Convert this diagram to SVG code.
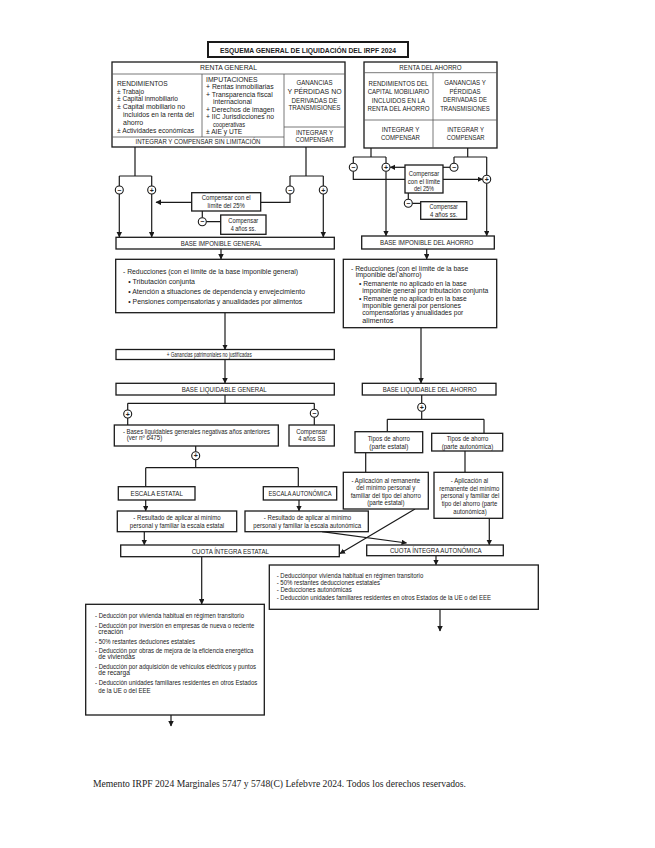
<svg xmlns="http://www.w3.org/2000/svg" width="655" height="848" viewBox="0 0 655 848">
<defs>
<marker id="ah" markerUnits="userSpaceOnUse" markerWidth="6" markerHeight="6" refX="5" refY="2.75" orient="auto">
<path d="M0,0 L5.5,2.75 L0,5.5 z" fill="#1a1a1a"/>
</marker>
</defs>
<style>
.b{fill:#fff;stroke:#1a1a1a;stroke-width:1.3}
.d{fill:none;stroke:#555;stroke-width:0.8}
.c{fill:none;stroke:#1a1a1a;stroke-width:1.2}
.a{fill:none;stroke:#1a1a1a;stroke-width:1.2;marker-end:url(#ah)}
.ci{fill:#fff;stroke:#1a1a1a;stroke-width:1.1}
text{font-family:"Liberation Sans Narrow","Arial Narrow","Liberation Sans",Arial,sans-serif;font-size:7px;fill:#222}
.m{text-anchor:middle}
.s{font-size:6.6px}
.sym{font-family:"Liberation Sans",Arial,sans-serif;font-size:7px;text-anchor:middle;font-weight:bold}
.ft{font-family:"Liberation Serif","Times New Roman",serif;font-size:9.5px;fill:#222}
</style>
<rect width="655" height="848" fill="#fff"/>

<g id="connectors">
<path class="c" d="M135,147 V176 M119.3,176 H151.7 M119.3,176 V186 M151.7,176 V186"/>
<path class="c" d="M306,147 V176 M290,176 H323.3 M290,176 V186 M323.3,176 V186"/>
<path class="a" d="M119.3,194 V237"/>
<path class="a" d="M151.7,194 V237"/>
<path class="a" d="M323.3,194 V237"/>
<path class="c" d="M290,194 V202.3 H260.7"/>
<path class="a" d="M191.7,202.3 H156"/>
<path class="c" d="M202.3,211 V217.7 M206.3,221.7 H220.7"/>
<path class="a" d="M221,249 V259"/>
<path class="a" d="M225,312.7 V349.5"/>
<path class="a" d="M225,359.5 V383"/>
<path class="c" d="M225,395 V403.3 M127.7,403.3 H314.3 M127.7,403.3 V410 M314.3,403.3 V409.3 M127.7,418 V425 M314.3,417.3 V425"/>
<path class="c" d="M195.7,446 V451.7 M195.7,459.7 V467.7 M145.7,467.7 H298.3 M145.7,467.7 V486.7 M298.3,467.7 V486.7"/>
<path class="a" d="M145.7,500 V510.8"/>
<path class="a" d="M299,500 V510.8"/>
<path class="a" d="M144.3,531.7 V544.8"/>
<path class="a" d="M201.7,556.7 V604"/>
<path class="a" d="M171,715 V726"/>
<path class="c" d="M371,148 V157 M353.3,157 H386 M353.3,157 V163.3 M386,157 V163.3"/>
<path class="c" d="M467.7,148 V157 M454,157 H486.7 M454,157 V163.3 M486.7,157 V175.3"/>
<path class="c" d="M353.3,171.3 V179.3 H405"/>
<path class="a" d="M443,179.3 H482.5"/>
<path class="c" d="M450,167.3 H443"/>
<path class="a" d="M405,167.3 H390.3"/>
<path class="c" d="M408.3,193 V199.3 M412.3,203.3 H420.7"/>
<path class="a" d="M386,171.3 V235.8"/>
<path class="a" d="M486.7,183.3 V235.8"/>
<path class="a" d="M426.7,249 V259"/>
<path class="a" d="M421,327.7 V383"/>
<path class="c" d="M421.7,395 V403.3 M421.7,411.3 V419.3 M387.3,419.3 H484 M387.3,419.3 V431.7 M484,419.3 V433.3"/>
<path class="c" d="M365.7,452.7 V472.3 M465,451 V472.3"/>
<path class="a" d="M489.3,518.3 V544.8"/>
<path class="a" d="M415,509 L340,553.6"/>
<path class="a" d="M322,531.7 L406.5,543"/>
<path class="a" d="M436,555.7 V564.8"/>
<path class="a" d="M440,609.3 V631"/>
</g>

<g id="title">
<rect x="208" y="42" width="200" height="15" fill="#fff" stroke="#1a1a1a" stroke-width="2"/>
<text x="308" y="53" class="m" style="font-weight:bold;font-size:8px" textLength="176" lengthAdjust="spacingAndGlyphs">ESQUEMA GENERAL DE LIQUIDACIÓN DEL IRPF 2024</text>
</g>

<g id="renta-general">
<rect class="b" x="112" y="62" width="233" height="85"/>
<path class="d" d="M112,74 H345 M202,74 V137 M284,74 V147 M112,137 H284 M284,127 H345"/>
<text x="228.5" y="70.3" class="m" textLength="57" lengthAdjust="spacingAndGlyphs">RENTA GENERAL</text>
<text x="117" y="86" textLength="50.7" lengthAdjust="spacingAndGlyphs">RENDIMIENTOS</text>
<text x="117" y="93.7" textLength="27" lengthAdjust="spacingAndGlyphs">± Trabajo</text>
<text x="117" y="101.3" textLength="61" lengthAdjust="spacingAndGlyphs">± Capital inmobiliario</text>
<text x="117" y="109" textLength="68" lengthAdjust="spacingAndGlyphs">± Capital mobiliario no</text>
<text x="123" y="116.7" textLength="71" lengthAdjust="spacingAndGlyphs">incluidos en la renta del</text>
<text x="123" y="124.5">ahorro</text>
<text x="117" y="133" textLength="77" lengthAdjust="spacingAndGlyphs">± Actividades económicas</text>
<text x="206" y="82" textLength="51.7" lengthAdjust="spacingAndGlyphs">IMPUTACIONES</text>
<text x="206" y="89.3" textLength="67.6" lengthAdjust="spacingAndGlyphs">+ Rentas inmobiliarias</text>
<text x="206" y="96.6" textLength="66.7" lengthAdjust="spacingAndGlyphs">+ Transparencia fiscal</text>
<text x="213" y="104.3" textLength="38.7" lengthAdjust="spacingAndGlyphs">internacional</text>
<text x="206" y="112" textLength="68.3" lengthAdjust="spacingAndGlyphs">+ Derechos de imagen</text>
<text x="206" y="119.3" textLength="68" lengthAdjust="spacingAndGlyphs">+ IIC Jurisdicciones no</text>
<text x="213" y="127" textLength="32" lengthAdjust="spacingAndGlyphs">cooperativas</text>
<text x="206" y="134.3" textLength="36.3" lengthAdjust="spacingAndGlyphs">± AIE y UTE</text>
<text x="314.5" y="85.3" class="m" textLength="36" lengthAdjust="spacingAndGlyphs">GANANCIAS</text>
<text x="314.5" y="94.2" class="m" textLength="54" lengthAdjust="spacingAndGlyphs">Y PÉRDIDAS NO</text>
<text x="314.5" y="102.5" class="m" textLength="46" lengthAdjust="spacingAndGlyphs">DERIVADAS DE</text>
<text x="314.5" y="109.5" class="m" textLength="52" lengthAdjust="spacingAndGlyphs">TRANSMISIONES</text>
<text x="314.5" y="134.8" class="m" textLength="37" lengthAdjust="spacingAndGlyphs">INTEGRAR Y</text>
<text x="314.5" y="142" class="m" textLength="38" lengthAdjust="spacingAndGlyphs">COMPENSAR</text>
<text x="198" y="144.4" class="m" textLength="125" lengthAdjust="spacingAndGlyphs">INTEGRAR Y COMPENSAR SIN LIMITACIÓN</text>
</g>

<g id="renta-ahorro">
<rect class="b" x="364" y="62" width="133" height="86"/>
<path class="d" d="M364,72.7 H497 M433,72.7 V148 M364,120 H497"/>
<text x="430.5" y="70" class="m" textLength="62.3" lengthAdjust="spacingAndGlyphs">RENTA DEL AHORRO</text>
<text x="398.5" y="86" class="m" textLength="60" lengthAdjust="spacingAndGlyphs">RENDIMIENTOS DEL</text>
<text x="398.5" y="94.3" class="m" textLength="61.7" lengthAdjust="spacingAndGlyphs">CAPITAL MOBILIARIO</text>
<text x="398.5" y="102.6" class="m" textLength="53.3" lengthAdjust="spacingAndGlyphs">INCLUIDOS EN LA</text>
<text x="398.5" y="110.6" class="m" textLength="62" lengthAdjust="spacingAndGlyphs">RENTA DEL AHORRO</text>
<text x="465" y="85.3" class="m" textLength="41.7" lengthAdjust="spacingAndGlyphs">GANANCIAS Y</text>
<text x="465" y="93.6" class="m" textLength="31" lengthAdjust="spacingAndGlyphs">PÉRDIDAS</text>
<text x="465" y="102.3" class="m" textLength="44" lengthAdjust="spacingAndGlyphs">DERIVADAS DE</text>
<text x="465" y="110.6" class="m" textLength="49.7" lengthAdjust="spacingAndGlyphs">TRANSMISIONES</text>
<text x="400.5" y="132" class="m" textLength="37.6" lengthAdjust="spacingAndGlyphs">INTEGRAR Y</text>
<text x="400.5" y="140" class="m" textLength="39" lengthAdjust="spacingAndGlyphs">COMPENSAR</text>
<text x="465.7" y="132" class="m" textLength="36.7" lengthAdjust="spacingAndGlyphs">INTEGRAR Y</text>
<text x="465.7" y="140" class="m" textLength="37.7" lengthAdjust="spacingAndGlyphs">COMPENSAR</text>
</g>

<g id="signs-general">
<circle class="ci" cx="119.3" cy="190" r="4"/><text class="sym" x="119.3" y="192.5">−</text>
<circle class="ci" cx="151.7" cy="190" r="4"/><text class="sym" x="151.7" y="192.5">+</text>
<circle class="ci" cx="290" cy="190" r="4"/><text class="sym" x="290" y="192.5">−</text>
<circle class="ci" cx="323.3" cy="190" r="4"/><text class="sym" x="323.3" y="192.5">+</text>
<circle class="ci" cx="202.3" cy="221.7" r="4"/><text class="sym" x="202.3" y="224.2">−</text>
<circle class="ci" cx="127.7" cy="414" r="4"/><text class="sym" x="127.7" y="416.5">+</text>
<circle class="ci" cx="314.3" cy="413.3" r="4"/><text class="sym" x="314.3" y="415.8">−</text>
<circle class="ci" cx="195.7" cy="455.7" r="4"/><text class="sym" x="195.7" y="458.2">+</text>
</g>

<g id="signs-ahorro">
<circle class="ci" cx="353.3" cy="167.3" r="4"/><text class="sym" x="353.3" y="169.8">−</text>
<circle class="ci" cx="386" cy="167.3" r="4"/><text class="sym" x="386" y="169.8">+</text>
<circle class="ci" cx="454" cy="167.3" r="4"/><text class="sym" x="454" y="169.8">−</text>
<circle class="ci" cx="486.7" cy="179.3" r="4"/><text class="sym" x="486.7" y="181.8">+</text>
<circle class="ci" cx="408.3" cy="203.3" r="4"/><text class="sym" x="408.3" y="205.8">−</text>
<circle class="ci" cx="421.7" cy="407.3" r="4"/><text class="sym" x="421.7" y="409.8">+</text>
</g>

<g id="compensar-25-general">
<rect class="b" x="191.7" y="192.7" width="69" height="18.3"/>
<text x="226.2" y="200.2" class="m" textLength="49" lengthAdjust="spacingAndGlyphs">Compensar con el</text>
<text x="226.2" y="208.2" class="m" textLength="37.3" lengthAdjust="spacingAndGlyphs">límite del 25%</text>
</g>
<g id="compensar-4-general">
<rect class="b" x="220.7" y="215" width="45.3" height="19.3"/>
<text x="243.3" y="223.2" class="m" textLength="30" lengthAdjust="spacingAndGlyphs">Compensar</text>
<text x="243.3" y="230.8" class="m" textLength="25.3" lengthAdjust="spacingAndGlyphs">4 años ss.</text>
</g>
<g id="base-imponible-general">
<rect class="b" x="116" y="237.3" width="218.3" height="11.7"/>
<text x="221.2" y="245.6" class="m" textLength="81" lengthAdjust="spacingAndGlyphs">BASE IMPONIBLE GENERAL</text>
</g>
<g id="reducciones-general">
<rect class="b" x="115.7" y="259.3" width="218.6" height="53.4"/>
<text x="123" y="274.2" textLength="175" lengthAdjust="spacingAndGlyphs">- Reducciones (con el límite de la base imponible general)</text>
<text x="128.3" y="284.2" textLength="66.7" lengthAdjust="spacingAndGlyphs">• Tributación conjunta</text>
<text x="128.3" y="293.5" textLength="176.7" lengthAdjust="spacingAndGlyphs">• Atención a situaciones de dependencia y envejecimiento</text>
<text x="128.3" y="303.5" textLength="174" lengthAdjust="spacingAndGlyphs">• Pensiones compensatorias y anualidades por alimentos</text>
</g>
<g id="ganancias-no-justificadas">
<rect class="b" x="116" y="349.5" width="218.3" height="10"/>
<text x="166.7" y="357" textLength="85" lengthAdjust="spacingAndGlyphs">+ Ganancias patrimoniales no justificadas</text>
</g>
<g id="base-liquidable-general">
<rect class="b" x="116" y="383.3" width="218.3" height="11.7"/>
<text x="224.2" y="391.6" class="m" textLength="85" lengthAdjust="spacingAndGlyphs">BASE LIQUIDABLE GENERAL</text>
</g>
<g id="bases-negativas">
<rect class="b" x="114.3" y="425" width="164" height="21"/>
<text x="123" y="433.5" textLength="147" lengthAdjust="spacingAndGlyphs">- Bases liquidables generales negativas años anteriores</text>
<text x="126.7" y="440.4" textLength="35.6" lengthAdjust="spacingAndGlyphs">(ver nº 6475)</text>
</g>
<g id="compensar-4-ss">
<rect class="b" x="289" y="425" width="45.3" height="21"/>
<text x="311.7" y="433.8" class="m" textLength="31" lengthAdjust="spacingAndGlyphs">Compensar</text>
<text x="311.7" y="441.2" class="m" textLength="27" lengthAdjust="spacingAndGlyphs">4 años SS</text>
</g>
<g id="escala-estatal">
<rect class="b" x="118.3" y="486.7" width="76.7" height="13.3"/>
<text x="156.7" y="495.9" class="m" textLength="52.3" lengthAdjust="spacingAndGlyphs">ESCALA ESTATAL</text>
</g>
<g id="escala-autonomica">
<rect class="b" x="263.3" y="486.7" width="73.4" height="13.3"/>
<text x="300" y="495.9" class="m" textLength="63" lengthAdjust="spacingAndGlyphs">ESCALA AUTONÓMICA</text>
</g>
<g id="resultado-estatal">
<rect class="b" x="117.3" y="511" width="119.4" height="20.7"/>
<text x="177" y="520.2" class="m" textLength="87.4" lengthAdjust="spacingAndGlyphs">- Resultado de aplicar al mínimo</text>
<text x="177" y="527.6" class="m" textLength="94.3" lengthAdjust="spacingAndGlyphs">personal y familiar la escala estatal</text>
</g>
<g id="resultado-autonomica">
<rect class="b" x="245" y="511" width="123.3" height="20.7"/>
<text x="307.5" y="520.2" class="m" textLength="87.4" lengthAdjust="spacingAndGlyphs">- Resultado de aplicar al mínimo</text>
<text x="307.2" y="527.6" class="m" textLength="107.7" lengthAdjust="spacingAndGlyphs">personal y familiar la escala autonómica</text>
</g>
<g id="cuota-estatal">
<rect class="b" x="120.7" y="545" width="218.6" height="11.7"/>
<text x="230.3" y="553.6" class="m" textLength="77.3" lengthAdjust="spacingAndGlyphs">CUOTA ÍNTEGRA ESTATAL</text>
</g>
<g id="deducciones-estatales">
<rect class="b" x="85.7" y="604.3" width="178.6" height="110.7"/>
<text class="s" x="95" y="617.5" textLength="149" lengthAdjust="spacingAndGlyphs">- Deducción por vivienda habitual en régimen transitorio</text>
<text class="s" x="95" y="627.5" textLength="159.3" lengthAdjust="spacingAndGlyphs">- Deducción por inversión en empresas de nueva o reciente</text>
<text class="s" x="98.3" y="634">creación</text>
<text class="s" x="95" y="643.5" textLength="100" lengthAdjust="spacingAndGlyphs">- 50% restantes deduciones estatales</text>
<text class="s" x="95" y="652.5" textLength="158.3" lengthAdjust="spacingAndGlyphs">- Deducción por obras de mejora de la eficiencia energética</text>
<text class="s" x="98.3" y="659.2">de viviendas</text>
<text class="s" x="95" y="668.5" textLength="161" lengthAdjust="spacingAndGlyphs">- Deducción por adquisición de vehículos eléctricos y puntos</text>
<text class="s" x="98.3" y="675.2">de recarga</text>
<text class="s" x="95" y="684.8" textLength="162.3" lengthAdjust="spacingAndGlyphs">- Deducción unidades familiares residentes en otros Estados</text>
<text class="s" x="98.3" y="692.5" textLength="52.4" lengthAdjust="spacingAndGlyphs">de la UE o del EEE</text>
</g>

<g id="compensar-25-ahorro">
<rect class="b" x="405" y="165" width="38" height="28"/>
<text x="424" y="175.8" class="m" textLength="30.3" lengthAdjust="spacingAndGlyphs">Compensar</text>
<text x="424" y="183.8" class="m" textLength="32.3" lengthAdjust="spacingAndGlyphs">con el límite</text>
<text x="424" y="191.2" class="m" textLength="20" lengthAdjust="spacingAndGlyphs">del 25%</text>
</g>
<g id="compensar-4-ahorro">
<rect class="b" x="420.7" y="201.7" width="46" height="17.6"/>
<text x="443.7" y="209.2" class="m" textLength="28.4" lengthAdjust="spacingAndGlyphs">Compensar</text>
<text x="443.7" y="216.5" class="m" textLength="27.3" lengthAdjust="spacingAndGlyphs">4 años ss.</text>
</g>
<g id="base-imponible-ahorro">
<rect class="b" x="361.7" y="236" width="132.6" height="13"/>
<text x="426.7" y="245.2" class="m" textLength="93.3" lengthAdjust="spacingAndGlyphs">BASE IMPONIBLE DEL AHORRO</text>
</g>
<g id="reducciones-ahorro">
<rect class="b" x="343.3" y="259.3" width="153.4" height="68.4"/>
<text x="351" y="270.8" textLength="117.3" lengthAdjust="spacingAndGlyphs">- Reducciones (con el límite de la base</text>
<text x="355.7" y="276.8" textLength="66" lengthAdjust="spacingAndGlyphs">imponible del ahorro)</text>
<text x="359" y="285.8" textLength="107.7" lengthAdjust="spacingAndGlyphs">• Remanente no aplicado en la base</text>
<text x="362.3" y="292.5" textLength="126" lengthAdjust="spacingAndGlyphs">imponible general por tributación conjunta</text>
<text x="359" y="300.8" textLength="107.7" lengthAdjust="spacingAndGlyphs">• Remanente no aplicado en la base</text>
<text x="362.3" y="307.5" textLength="98.7" lengthAdjust="spacingAndGlyphs">imponible general por pensiones</text>
<text x="362.3" y="314.8" textLength="101" lengthAdjust="spacingAndGlyphs">compensatorias y anualidades por</text>
<text x="362.3" y="322.5" textLength="31" lengthAdjust="spacingAndGlyphs">alimentos</text>
</g>
<g id="base-liquidable-ahorro">
<rect class="b" x="362.3" y="383.3" width="133.7" height="11.7"/>
<text x="429.7" y="391.6" class="m" textLength="94" lengthAdjust="spacingAndGlyphs">BASE LIQUIDABLE DEL AHORRO</text>
</g>
<g id="tipos-estatal">
<rect class="b" x="355" y="431.7" width="67.7" height="21"/>
<text x="388.8" y="440.8" class="m" textLength="42.3" lengthAdjust="spacingAndGlyphs">Tipos de ahorro</text>
<text x="388.8" y="448.5" class="m" textLength="39" lengthAdjust="spacingAndGlyphs">(parte estatal)</text>
</g>
<g id="tipos-autonomica">
<rect class="b" x="431.7" y="433.3" width="71" height="17.7"/>
<text x="467.5" y="440.8" class="m" textLength="41.7" lengthAdjust="spacingAndGlyphs">Tipos de ahorro</text>
<text x="467.5" y="448.5" class="m" textLength="51.7" lengthAdjust="spacingAndGlyphs">(parte autonómica)</text>
</g>
<g id="aplicacion-estatal">
<rect class="b" x="343.3" y="472.3" width="85" height="36.7"/>
<text x="385.8" y="482.5" class="m" textLength="68.7" lengthAdjust="spacingAndGlyphs">- Aplicación al remanente</text>
<text x="385.8" y="490.2" class="m" textLength="59" lengthAdjust="spacingAndGlyphs">del mínimo personal y</text>
<text x="385.8" y="497.5" class="m" textLength="70.3" lengthAdjust="spacingAndGlyphs">familiar del tipo del ahorro</text>
<text x="385.8" y="505.2" class="m" textLength="37.3" lengthAdjust="spacingAndGlyphs">(parte estatal)</text>
</g>
<g id="aplicacion-autonomica">
<rect class="b" x="434" y="472.3" width="68.7" height="46"/>
<text x="469.5" y="482.5" class="m" textLength="37.3" lengthAdjust="spacingAndGlyphs">- Aplicación al</text>
<text x="469.3" y="490.8" class="m" textLength="60" lengthAdjust="spacingAndGlyphs">remanente del mínimo</text>
<text x="470" y="498.2" class="m" textLength="58.6" lengthAdjust="spacingAndGlyphs">personal y familiar del</text>
<text x="469.5" y="505.8" class="m" textLength="55.6" lengthAdjust="spacingAndGlyphs">tipo del ahorro (parte</text>
<text x="470" y="513.5" class="m" textLength="33.4" lengthAdjust="spacingAndGlyphs">autonómica)</text>
</g>
<g id="cuota-autonomica">
<rect class="b" x="366.7" y="545" width="136.6" height="10.7"/>
<text x="435.8" y="552.9" class="m" textLength="91.7" lengthAdjust="spacingAndGlyphs">CUOTA ÍNTEGRA AUTONÓMICA</text>
</g>
<g id="deducciones-autonomicas">
<rect class="b" x="269.3" y="565" width="269" height="44.3"/>
<text class="s" x="276.7" y="578.2" textLength="146.6" lengthAdjust="spacingAndGlyphs">- Deducciónpor vivienda habitual en régimen transitorio</text>
<text class="s" x="276.7" y="584.8" textLength="103.3" lengthAdjust="spacingAndGlyphs">- 50% restantes deducciones estatales</text>
<text class="s" x="276.7" y="591.8" textLength="75" lengthAdjust="spacingAndGlyphs">- Deducciones autonómicas</text>
<text class="s" x="276.7" y="599.8" textLength="214.3" lengthAdjust="spacingAndGlyphs">- Deducción unidades familiares residentes en otros Estados de la UE o del EEE</text>
</g>

<g id="footer">
<text class="ft" x="93" y="787" textLength="373" lengthAdjust="spacingAndGlyphs">Memento IRPF 2024 Marginales 5747 y 5748(C) Lefebvre 2024. Todos los derechos reservados.</text>
</g>
</svg>
